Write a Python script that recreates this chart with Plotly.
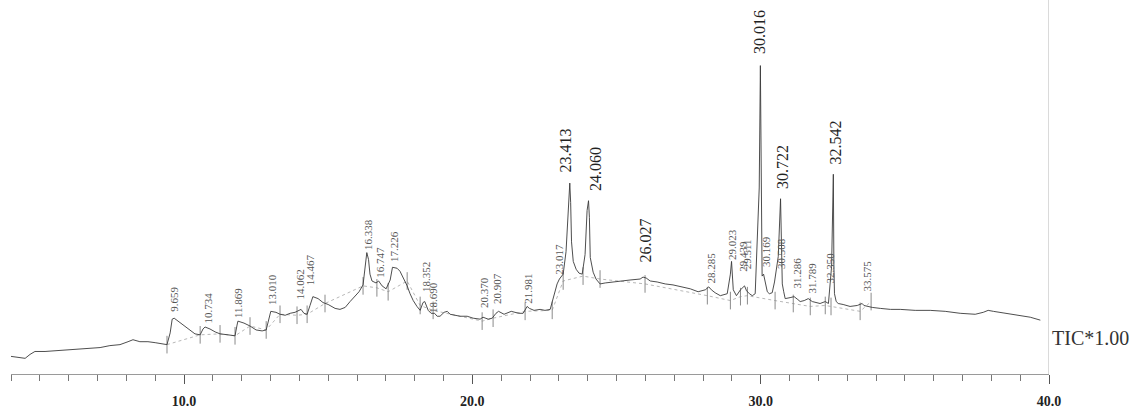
import plotly.graph_objects as go

# ---- TIC trace (retention time in min, relative intensity) ----
rt = [4.00, 4.24, 4.49, 4.66, 4.83, 5.18, 5.70, 6.22, 6.74, 7.09, 7.43, 7.78, 8.06, 8.23, 8.47,
      8.75, 9.00, 9.24, 9.41, 9.52, 9.59, 9.66, 9.79, 9.97, 10.21, 10.38, 10.56, 10.66, 10.73,
      10.90, 11.08, 11.25, 11.53, 11.77, 11.84, 11.87, 12.08, 12.29, 12.50, 12.71, 12.85, 12.95,
      13.01, 13.19, 13.33, 13.51, 13.68, 13.85, 13.99, 14.06, 14.16, 14.27, 14.37, 14.47, 14.65,
      14.82, 15.00, 15.24, 15.41, 15.59, 15.76, 15.93, 16.07, 16.21, 16.28, 16.34, 16.40, 16.45,
      16.52, 16.66, 16.75, 16.87, 17.01, 17.15, 17.23, 17.39, 17.49, 17.63, 17.74, 17.84, 17.95,
      18.08, 18.19, 18.29, 18.35, 18.47, 18.57, 18.69, 18.78, 18.88, 19.02, 19.13, 19.23, 19.40,
      19.58, 19.82, 20.03, 20.27, 20.37, 20.55, 20.69, 20.82, 20.91, 21.10, 21.21, 21.35, 21.48,
      21.62, 21.76, 21.90, 21.98, 22.14, 22.35, 22.52, 22.70, 22.84, 22.94, 23.02, 23.15, 23.25,
      23.33, 23.38, 23.41, 23.44, 23.50, 23.60, 23.70, 23.81, 23.91, 23.98, 24.03, 24.06, 24.09,
      24.19, 24.29, 24.43, 24.61, 24.85, 25.13, 25.47, 25.82, 25.92, 26.03, 26.10, 26.17, 26.41,
      26.69, 26.96, 27.21, 27.56, 27.83, 28.08, 28.20, 28.29, 28.42, 28.60, 28.84, 28.95, 28.99,
      29.02, 29.05, 29.16, 29.30, 29.44, 29.47, 29.51, 29.61, 29.71, 29.81, 29.95, 29.99, 30.02,
      30.05, 30.10, 30.17, 30.23, 30.30, 30.40, 30.48, 30.51, 30.61, 30.69, 30.72, 30.75, 30.80,
      30.85, 31.02, 31.16, 31.29, 31.37, 31.51, 31.65, 31.79, 31.93, 32.06, 32.24, 32.35, 32.46,
      32.52, 32.54, 32.56, 32.62, 32.69, 32.86, 33.10, 33.35, 33.52, 33.58, 33.73, 33.87, 34.15,
      34.50, 34.84, 35.36, 35.88, 36.40, 36.92, 37.44, 37.72, 37.89, 38.07, 38.31, 38.66, 39.00,
      39.35, 39.70, 40.00]
intensity = [18, 17, 16, 20, 23, 23, 24, 25, 26, 27, 29, 30, 33, 35, 33,
             33, 32, 31, 30, 42, 56, 57, 54, 50, 44, 41, 40, 46, 48,
             46, 43, 41, 40, 39, 50, 54, 52, 49, 45, 44, 45, 57,
             64, 63, 61, 60, 62, 63, 65, 66, 62, 61, 70, 79, 77,
             73, 71, 67, 66, 68, 74, 79, 84, 91, 112, 124, 117, 102,
             95, 93, 95, 90, 87, 96, 109, 108, 105, 97, 90, 82, 75,
             69, 65, 73, 74, 65, 62, 62, 59, 59, 63, 64, 61, 60,
             59, 59, 57, 56, 58, 56, 57, 62, 64, 61, 62, 64,
             63, 62, 62, 69, 67, 65, 66, 65, 66, 80, 92, 97, 102,
             125, 170, 195, 175, 135, 115, 107, 103, 102, 122, 167, 177, 160,
             119, 104, 97, 92, 93, 94, 95, 96, 97, 99, 98, 96, 95,
             94, 92, 91, 89, 87, 84, 86, 89, 86, 83, 80, 82, 102,
             115, 92, 86, 80, 86, 90, 88, 85, 82, 80, 82, 190, 315,
             130, 100, 102, 92, 84, 82, 83, 94, 99, 120, 179, 120, 92,
             84, 77, 78, 79, 76, 74, 75, 77, 74, 73, 72, 74, 72,
             110, 204, 110, 82, 74, 72, 71, 69, 70, 72, 70, 69, 68,
             67, 66, 66, 65, 65, 64, 62, 61, 63, 65, 64, 63, 61,
             60, 58, 55]

# ---- peak labels ----
peak_labels = ["9.659", "10.734", "11.869", "13.010", "14.062", "14.467", "16.338", "16.747",
               "17.226", "18.352", "18.690", "20.370", "20.907", "21.981", "23.017", "28.285",
               "29.023", "29.439", "29.511", "30.169", "30.508", "31.286", "31.789", "32.350",
               "33.575"]
label_rt = [9.65, 10.80, 11.87, 13.05, 13.99, 14.37, 16.38, 16.77,
            17.29, 18.40, 18.64, 20.41, 20.86, 21.94, 22.98, 28.28,
            29.01, 29.39, 29.53, 30.19, 30.68, 31.27, 31.79, 32.41,
            33.70]
label_int = [62, 49, 55, 69, 74, 88, 125, 96,
             112, 82, 60, 65, 69, 70, 99, 90,
             114, 102, 105, 107, 105, 85, 80, 90,
             82]

major_labels = ["23.413", "24.060", "26.027", "30.016", "30.722", "32.542"]
major_rt = [23.22, 24.29, 25.99, 29.98, 30.78, 32.58]
major_int = [204, 185, 112, 325, 187, 212]

# ---- integration boundary marks ----
bound_rt = [9.41, 10.56, 11.25, 11.77, 12.29, 12.85, 13.33, 13.92, 14.27, 14.89, 16.21, 16.69,
            17.08, 17.74, 18.19, 18.64, 20.34, 20.72, 21.83, 22.77, 23.15, 23.84, 24.43, 25.99,
            28.15, 28.95, 29.30, 29.54, 30.50, 31.13, 31.72, 32.24, 32.44, 33.45, 33.83]
bound_int = [30, 40, 41, 39, 49, 45, 61, 60, 61, 72, 90, 88,
             84, 95, 70, 65, 54, 57, 64, 65, 95, 100, 97, 92,
             80, 75, 79, 80, 75, 72, 69, 70, 69, 64, 74]

fig = go.Figure()

# dotted integration baselines
fig.add_trace(go.Scatter(x=bound_rt, y=bound_int, mode="lines",
                         line=dict(color="#b8b8b8", width=1, dash="dot"),
                         hoverinfo="skip", showlegend=False))

# boundary tick marks
mx, my = [], []
for t, v in zip(bound_rt, bound_int):
    mx += [t, t, None]
    my += [v - 9, v + 9, None]
fig.add_trace(go.Scatter(x=mx, y=my, mode="lines",
                         line=dict(color="#8a8a8a", width=1),
                         hoverinfo="skip", showlegend=False))

# main chromatogram
fig.add_trace(go.Scatter(x=rt, y=intensity, mode="lines",
                         line=dict(color="#3a3a3a", width=0.9),
                         showlegend=False))

annotations = []
for txt, t, v in zip(peak_labels, label_rt, label_int):
    annotations.append(dict(x=t, y=v, xref="x", yref="y", text=txt, showarrow=False,
                            textangle=-90, xanchor="center", yanchor="bottom",
                            font=dict(family="Liberation Serif", size=11, color="#555555")))
for txt, t, v in zip(major_labels, major_rt, major_int):
    annotations.append(dict(x=t, y=v, xref="x", yref="y", text=txt, showarrow=False,
                            textangle=-90, xanchor="center", yanchor="bottom",
                            font=dict(family="Liberation Serif", size=16, color="#222222")))
annotations.append(dict(x=40, y=37, xref="x", yref="y", text="TIC*1.00", showarrow=False,
                        xanchor="left", yanchor="middle", xshift=1,
                        font=dict(family="Liberation Serif", size=20, color="#333333")))

fig.add_shape(type="line", xref="x", yref="paper", x0=40, x1=40, y0=0, y1=1,
              line=dict(color="#b5b5b5", width=1))

fig.update_layout(
    width=1131, height=409,
    margin=dict(l=11, r=82, t=0, b=27),
    paper_bgcolor="white", plot_bgcolor="white",
    annotations=annotations,
    xaxis=dict(range=[4, 40], showgrid=False, zeroline=False,
               showline=True, linecolor="#9a9a9a", linewidth=1,
               tickmode="linear", tick0=0, dtick=10, tickformat=".1f",
               ticks="outside", ticklen=9, tickcolor="#555555",
               ticklabelstandoff=5,
               tickfont=dict(family="Liberation Serif", size=14, color="#222222", weight="bold"),
               minor=dict(tickmode="linear", tick0=0, dtick=1, ticks="outside",
                          ticklen=6, tickcolor="#777777")),
    yaxis=dict(range=[0, 382], visible=False, showgrid=False, zeroline=False),
)

fig.write_html("out.html")
